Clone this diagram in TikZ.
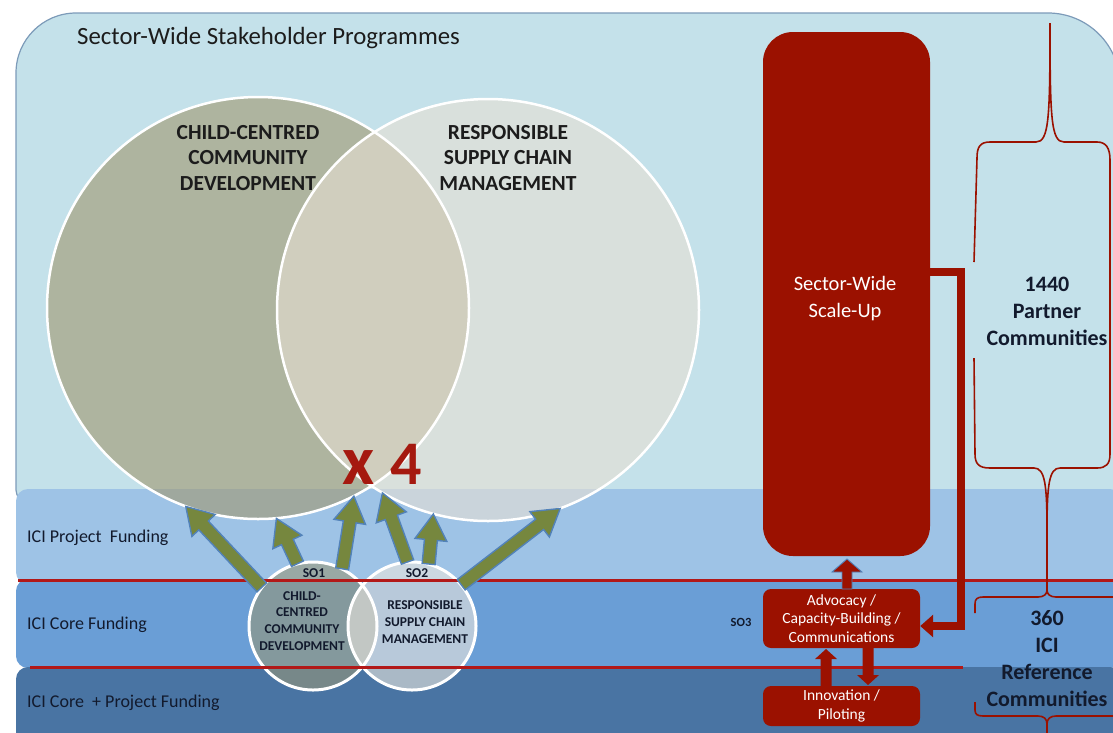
\documentclass[tikz,border=0pt]{standalone}
\usepackage{fontspec}
\setmainfont{Carlito}
\usetikzlibrary{calc,arrows.meta}
\definecolor{bgblue}{RGB}{196,225,234}
\definecolor{projblue}{RGB}{158,195,230}
\definecolor{coreblue}{RGB}{106,158,214}
\definecolor{botblue}{RGB}{73,116,163}
\definecolor{darkred}{RGB}{155,17,0}
\definecolor{linered}{RGB}{178,24,24}
\definecolor{xred}{RGB}{165,25,15}
\definecolor{olivegreen}{RGB}{118,135,62}
\definecolor{steelblue}{RGB}{82,130,185}
\definecolor{navytext}{RGB}{18,26,45}
\definecolor{darktext}{RGB}{28,28,28}
\definecolor{circL}{RGB}{160,150,110}
\definecolor{circR}{RGB}{232,224,212}
\definecolor{smallL}{RGB}{150,150,120}
\definecolor{smallR}{RGB}{236,231,222}
\definecolor{edgegray}{RGB}{125,155,185}

% fat arrow: style, tail, tip, half shaft, half head, head length
\newcommand\fatarrow[6]{%
  \coordinate (fahead) at ($(#3)!#6!(#2)$);
  \path[#1] ($(#2)!#4!90:(#3)$) -- ($(fahead)!#4!90:(#3)$) -- ($(fahead)!#5!90:(#3)$) -- (#3)
     -- ($(fahead)!#5!270:(#3)$) -- ($(fahead)!#4!270:(#3)$) -- ($(#2)!#4!270:(#3)$) -- cycle;
}

\begin{document}
\begin{tikzpicture}[x=1pt,y=-1pt,
  band/.style={rounded corners=12pt},
  bigfill/.style={circle, inner sep=0pt, minimum size=422pt, fill opacity=0.6},
  smallfill/.style={circle, inner sep=0pt, minimum size=128pt, fill opacity=0.6},
  ring/.style={draw=white, line width=2.5pt},
  redbox/.style={fill=darkred, text=white, rounded corners=8pt, inner sep=0pt, align=center,
     font=\fontsize{15.5}{18.5}\selectfont},
  garrow/.style={fill=olivegreen, draw=steelblue, line width=1.4pt, line join=miter},
  rarrow/.style={fill=darkred, draw=steelblue, line width=0.9pt, line join=miter},
  rarrowplain/.style={fill=darkred},
  bracepath/.style={draw=darkred, line width=1.6pt},
  redline/.style={draw=linered, line width=3pt},
  bandlabel/.style={anchor=west, inner sep=0pt, text=navytext, font=\fontsize{18}{22}\selectfont},
  bigtext/.style={inner sep=0pt, align=center, text=darktext, font=\bfseries\fontsize{21.5}{25.5}\selectfont},
  smalltext/.style={inner sep=0pt, align=center, text=navytext, font=\bfseries\fontsize{13.5}{16.8}\selectfont},
  countlabel/.style={inner sep=0pt, align=center, text=navytext, font=\bfseries\fontsize{22}{27}\selectfont}
]
\useasboundingbox (0,0) rectangle (1113,732);
\fill[white] (0,0) rectangle (1113,732);

% main programme area
\path[fill=bgblue, draw=edgegray, line width=1.2pt]
  (16,300) [rounded corners=12pt] -- (16,502) -- (1120,502) [rounded corners=72pt] -- (1120,13) [rounded corners=60pt] -- (16,13) -- cycle;

% funding bands
\path[band, fill=projblue] (16,489) rectangle (1122,584);
\path[band, fill=coreblue] (16,579) rectangle (1122,668);
\path[band, fill=botblue] (16,667) rectangle (1122,770);

\node[anchor=west, inner sep=0pt, text=darktext, font=\fontsize{24.8}{29}\selectfont] (title) at (77,38) {Sector-Wide Stakeholder Programmes};

\node[bandlabel] (lproj) at (27,538) {ICI Project\ \ Funding};
\node[bandlabel] (lcore) at (27,625) {ICI Core Funding};
\node[bandlabel] (lboth) at (27,703) {ICI Core\ \ + Project Funding};

% big circles
\node[bigfill, fill=circL] (bigL) at (258,308) {};
\node[bigfill, fill=circR] (bigR) at (488,310) {};
\draw[ring] (bigL.center) circle[radius=211pt];
\draw[ring] (bigR.center) circle[radius=211pt];
\node[bigtext] (tL) at (248,158) {CHILD-CENTRED\\COMMUNITY\\DEVELOPMENT};
\node[bigtext] (tR) at (508,158) {RESPONSIBLE\\SUPPLY CHAIN\\MANAGEMENT};

\node[inner sep=0pt, text=xred, font=\bfseries] (times) at (382,464)
  {{\fontsize{70}{70}\selectfont x}\hspace{16pt}{\fontsize{62}{62}\selectfont 4}};

% small circles
\node[smallfill, fill=smallL] (so1) at (313,626) {};
\node[smallfill, fill=smallR] (so2) at (412,626) {};
\draw[ring, line width=3pt] (so1.center) circle[radius=64pt];
\draw[ring, line width=3pt] (so2.center) circle[radius=64pt];

% red dividing lines
\draw[redline] (18,580) -- (1113,580);
\draw[redline] (30,667) -- (963,667);

\node[smalltext] (so1t) at (314,573) {SO1};
\node[smalltext] (so2t) at (417,573) {SO2};
\node[smalltext] (so1b) at (302,621) {CHILD-\\CENTRED\\COMMUNITY\\DEVELOPMENT};
\node[smalltext] (so2b) at (425,622) {RESPONSIBLE\\SUPPLY CHAIN\\MANAGEMENT};

% green arrows
\fatarrow{garrow}{so1.143}{bigL.250}{6.5pt}{16pt}{26pt}
\fatarrow{garrow}{so1.104}{bigL.275}{6.5pt}{16pt}{26pt}
\fatarrow{garrow}{so1.63}{bigL.297}{6.5pt}{16pt}{26pt}
\fatarrow{garrow}{so2.94}{bigR.240}{6.5pt}{16pt}{26pt}
\fatarrow{garrow}{so2.75}{bigR.255}{6.5pt}{16pt}{26pt}
\fatarrow{garrow}{so2.40}{bigR.290}{6.5pt}{16pt}{26pt}

% red boxes
\node[redbox, rounded corners=30pt, minimum width=167pt, minimum height=524pt,
      font=\fontsize{20.5}{27}\selectfont] (scale) at (846.5,294) {};
\node[inner sep=0pt, align=center, text=white, font=\fontsize{20.5}{27}\selectfont] (scalet) at (845,299) {Sector-Wide\\Scale-Up};
\node[redbox, minimum width=157pt, minimum height=59pt] (adv) at (841.5,618.5) {Advocacy /\\Capacity-Building /\\Communications};
\node[redbox, minimum width=157pt, minimum height=40pt] (innov) at (841.5,706) {Innovation /\\Piloting};
\node[inner sep=0pt, text=navytext, font=\bfseries\fontsize{12.5}{14}\selectfont] (so3) at (741,622) {SO3};

% red arrows
\coordinate (upT) at (847,589);
\coordinate (upH) at (847,559);
\fatarrow{rarrow}{upT}{upH}{5pt}{15pt}{13pt}
\coordinate (inT) at (826,686);
\coordinate (inH) at (826,649);
\fatarrow{rarrowplain}{inT}{inH}{5.5pt}{11pt}{10pt}
\coordinate (dnT) at (868,648);
\coordinate (dnH) at (868,685);
\fatarrow{rarrowplain}{dnT}{dnH}{5.5pt}{11pt}{10pt}

\coordinate (bend1) at (961,272);
\coordinate (bend2) at (961,626);
\draw[darkred, line width=8pt, line join=miter, -{Triangle[width=22pt,length=13pt]}]
  ([yshift=22pt]scale.east) -- (bend1) -- (bend2) -- (adv.east |- bend2);

% braces
\draw[bracepath] (1050,23) .. controls (1050,118) and (1049,142) .. (1036,142) -- (990,142)
  .. controls (980,142) and (977,147) .. (977,158) -- (974,262);
\draw[bracepath] (974,358) -- (975,454) .. controls (975,464) and (979,468) .. (990,468) -- (1034,468)
  .. controls (1045,468) and (1047,485) .. (1047,530) -- (1047,594);
\draw[bracepath] (1050,23) .. controls (1050,118) and (1051,142) .. (1064,142) -- (1097,142)
  .. controls (1106,142) and (1110,148) .. (1110,160) -- (1110,454)
  .. controls (1110,464) and (1106,468) .. (1097,468) -- (1060,468)
  .. controls (1049,468) and (1047,485) .. (1047,530);
\draw[bracepath] (975,613) -- (975,604) .. controls (975,599) and (977,597) .. (983,597) -- (1038,597)
  .. controls (1044,597) and (1047,594) .. (1047,590) .. controls (1047,594) and (1050,597) .. (1056,597) -- (1118,597);
\draw[bracepath] (975,702) -- (975,710) .. controls (975,714) and (977,716) .. (983,716) -- (1038,716)
  .. controls (1044,716) and (1047,719) .. (1047,724) -- (1047,740);
\draw[bracepath] (1047,724) .. controls (1047,719) and (1050,716) .. (1056,716) -- (1118,716);

\node[countlabel] (c1440) at (1047,311) {1440\\Partner\\Communities};
\node[countlabel] (c360) at (1047,659) {360\\ICI\\Reference\\Communities};
\end{tikzpicture}
\end{document}
